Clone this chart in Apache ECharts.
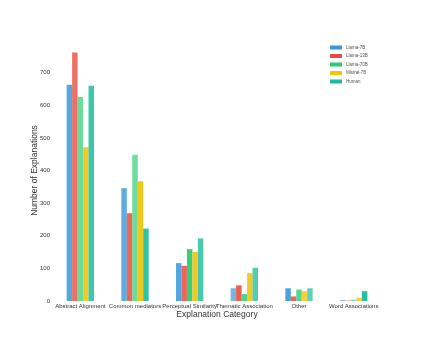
<!DOCTYPE html>
<html>
<head>
<meta charset="utf-8">
<script src="https://cdn.jsdelivr.net/npm/echarts@6/dist/echarts.min.js"></script>
<style>
html,body{margin:0;padding:0;background:#fff;}
#chart{width:423px;height:338px;}
</style>
</head>
<body>
<div id="chart"></div>
<script>
// 类别与各模型数值
var categories = ['Abstract Alignment', 'Common mediators', 'Perceptual Similarity', 'Thematic Association', 'Other', 'Word Associations'];
var llama7b  = [663, 346, 116, 39, 39, 3];
var llama13b = [762, 269, 108, 48, 14, 2];
var llama70b = [625, 448, 159, 21, 35, 4];
var mistral7b = [471, 367, 150, 86, 30, 10];
var human    = [660, 222, 192, 102, 39, 30];
var yTicks = [0, 100, 200, 300, 400, 500, 600, 700];

// 每根柱子的透明度（原图各柱深浅不一）
var alphas = [
  [0.85, 0.8, 0.85, 0.7, 0.9, 0.6],
  [0.8, 0.85, 0.85, 0.9, 0.85, 0.5],
  [0.7, 0.7, 0.95, 0.85, 0.8, 0.6],
  [0.9, 0.95, 0.9, 0.9, 0.8, 0.8],
  [0.85, 0.9, 0.8, 0.75, 0.7, 0.95]
];

var names = ['Llama-7B', 'Llama-13B', 'Llama-70B', 'Mistral-7B', 'Human'];
var colors = ['#3498db', '#e74c3c', '#2ecc71', '#f1c40f', '#1abc9c'];
var values = [llama7b, llama13b, llama70b, mistral7b, human];

var series = names.map(function (n, i) {
  return {
    name: n,
    type: 'bar',
    barGap: '0%',
    barCategoryGap: '50%',
    itemStyle: { color: colors[i] },
    data: values[i].map(function (v, j) {
      return { value: v, itemStyle: { opacity: alphas[i][j] } };
    })
  };
});

var myChart = echarts.init(document.getElementById('chart'));
var option = {
  backgroundColor: '#fff',
  animation: false,
  textStyle: { fontFamily: 'Liberation Sans, Arial, sans-serif' },
  grid: { left: 53, right: 42, top: 40, bottom: 37, containLabel: false },
  legend: {
    orient: 'vertical',
    left: 330,
    top: 45,
    padding: 0,
    itemWidth: 12,
    itemHeight: 4,
    itemGap: 3.5,
    icon: 'rect',
    textStyle: { fontSize: 4.5, color: '#555', padding: [0, 0, 0, -1] },
    data: names
  },
  xAxis: {
    type: 'category',
    data: categories,
    name: 'Explanation Category',
    nameLocation: 'middle',
    nameMoveOverlap: false,
    nameGap: 9,
    nameTextStyle: { fontSize: 8.5, color: '#333' },
    axisLine: { show: false },
    axisTick: { show: false },
    axisLabel: { fontSize: 6, color: '#333', margin: 2, interval: 0 }
  },
  yAxis: {
    type: 'value',
    min: 0,
    max: 800,
    interval: 100,
    name: 'Number of Explanations',
    nameLocation: 'middle',
    nameMoveOverlap: false,
    nameGap: 14,
    nameTextStyle: { fontSize: 8.5, color: '#333' },
    axisLine: { show: false },
    axisTick: { show: false },
    splitLine: { show: false },
    axisLabel: {
      fontSize: 6, color: '#333', margin: 3,
      formatter: function (v) { return yTicks.indexOf(v) >= 0 ? v : ''; }
    }
  },
  series: series
};
myChart.setOption(option);
</script>
</body>
</html>
